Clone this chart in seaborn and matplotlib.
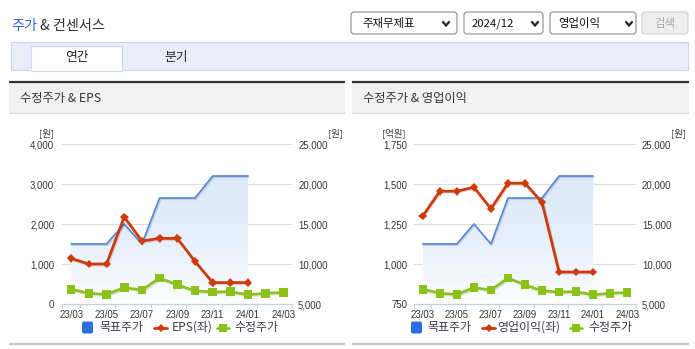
import numpy as np
import pandas as pd
import matplotlib
matplotlib.use("Agg")
import matplotlib.pyplot as plt
import matplotlib.patheffects as pe
from matplotlib.colors import LinearSegmentedColormap
from matplotlib.patches import FancyBboxPatch, Rectangle, Polygon
from matplotlib.lines import Line2D
import seaborn as sns

# ---- data -------------------------------------------------------------
months = ["23/03", "23/04", "23/05", "23/06", "23/07", "23/08", "23/09",
          "23/10", "23/11", "23/12", "24/01", "24/02", "24/03"]
tick_months = ["23/03", "23/05", "23/07", "23/09", "23/11", "24/01", "24/03"]
target_price = [12500, 12500, 12500, 15000, 12500, 18250, 18250, 18250,
                21000, 21000, 21000, np.nan, np.nan]
adj_price = [6850, 6350, 6200, 7050, 6750, 8250, 7400, 6650, 6500, 6550,
             6150, 6350, 6450]
eps = [1140, 1000, 1000, 2175, 1575, 1640, 1640, 1065, 535, 535, 535,
       np.nan, np.nan]
op_income = [1300, 1455, 1455, 1480, 1345, 1505, 1505, 1385, 950, 950, 950,
             np.nan, np.nan]
eps_ticks = [0, 1000, 2000, 3000, 4000]
op_ticks = [750, 1000, 1250, 1500, 1750]
price_ticks = [5000, 10000, 15000, 20000, 25000]

df = pd.DataFrame({"pos": np.arange(len(months)), "month": months,
                   "target": target_price, "adj": adj_price,
                   "eps": eps, "op": op_income})

# ---- style ------------------------------------------------------------
W, H = 695, 349
BLUE, RED, GREEN = "#4f84da", "#cf3a0c", "#8bc21a"
LEG_BLUE = "#2a6ee0"
AXIS = "#c2d0e2"
TXT = "#333333"
NUM_FONT = ["Liberation Sans Narrow", "Liberation Sans", "DejaVu Sans"]

sns.set_theme(style="white")
plt.rcParams["font.family"] = ["Noto Sans CJK KR", "DejaVu Sans"]

fig = plt.figure(figsize=(W / 100, H / 100), dpi=100)
page = fig.add_axes([0, 0, 1, 1], zorder=0)
page.set_xlim(0, W)
page.set_ylim(H, 0)
page.axis("off")


def box(x0, y0, x1, y1, fc, ec="none", lw=0.0, r=0.0, z=1):
    if r:
        p = FancyBboxPatch((x0, y0), x1 - x0, y1 - y0,
                           boxstyle=f"round,pad=0,rounding_size={r}",
                           fc=fc, ec=ec, lw=lw, zorder=z)
    else:
        p = Rectangle((x0, y0), x1 - x0, y1 - y0, fc=fc, ec=ec, lw=lw, zorder=z)
    page.add_patch(p)


def hline(x0, x1, y, color, lw):
    page.plot([x0, x1], [y, y], color=color, lw=lw, solid_capstyle="butt", zorder=2)


# ---- page title -------------------------------------------------------
renderer = fig.canvas.get_renderer()
t = page.text(11, 26, "주가", color="#2f62c9", fontsize=10.2, va="center")
bb = t.get_window_extent(renderer)
page.text(bb.x1, 26, " & 컨센서스", color=TXT, fontsize=10.2, va="center")

# ---- selectors --------------------------------------------------------
selects = [(351, 457, "주재무제표", 362, 446),
           (464, 543, "2024/12", 471.5, 535),
           (550, 636, "영업이익", 558, 629)]
for x0, x1, label, tx, cx in selects:
    box(x0, 12, x1, 34, fc="white", ec="#8c8c8c", lw=0.8, r=3)
    page.text(tx, 23.5, label, fontsize=8.2, color="#111111", va="center")
    page.plot([cx - 3, cx, cx + 3], [22, 25.5, 22], color="#222222",
              lw=1.6, solid_joinstyle="miter", zorder=3)
box(642, 12, 688, 34, fc="#eeeeee", ec="#cfcfcf", lw=0.8, r=3)
page.text(665, 23.5, "검색", fontsize=8.2, color="#a6a6a6",
          ha="center", va="center")

# ---- tabs -------------------------------------------------------------
box(11, 42, 688, 70, fc="#e8eef8", ec="#cdd7e8", lw=0.8)
box(31, 46, 122, 70.6, fc="white", ec="#cdd7e8", lw=0.8, z=2)
page.plot([31.5, 121.5], [70.4, 70.4], color="white", lw=1.2, zorder=3)
page.text(76.5, 58, "연간", fontsize=9.2, color="#222222", ha="center", va="center")
page.text(176, 58, "분기", fontsize=9.2, color="#222222", ha="center", va="center")

# ---- panels -----------------------------------------------------------
panels = [(9, 345, "수정주가 & EPS"), (352, 689, "수정주가 & 영업이익")]
for x0, x1, title in panels:
    box(x0, 82, x1, 113, fc="#f1f1f1")
    hline(x0, x1, 82.2, "#333333", 1.6)
    hline(x0, x1, 113, "#d9d9d9", 0.8)
    hline(x0, x1, 344, "#c6c6c6", 1.6)
    page.text(x0 + 11, 98.5, title, fontsize=8.8, color=TXT, va="center")

shadow = [pe.SimpleLineShadow(offset=(0.8, -0.9), shadow_color="#000000", alpha=0.12),
          pe.Normal()]


def add_chart(x0, x1, left_col, left_ticks, l_pad, r_pad):
    y0, y1 = 144, 304
    rect = [x0 / W, 1 - y1 / H, (x1 - x0) / W, (y1 - y0) / H]
    ax_l = fig.add_axes(rect)
    ax_r = ax_l.twinx()
    ax_l.set_zorder(3)
    ax_r.set_zorder(2)
    ax_l.patch.set_visible(False)

    # gradient area under the target price
    sub = df.dropna(subset=["target"])
    xs, ys = sub["pos"].to_numpy(), sub["target"].to_numpy()
    base = price_ticks[0]
    verts = [(xs[0], base)] + list(zip(xs, ys)) + [(xs[-1], base)]
    clip = Polygon(verts, closed=True, fc="none", ec="none",
                   transform=ax_r.transData)
    ax_r.add_patch(clip)
    cmap = LinearSegmentedColormap.from_list("fade", ["#fcfdff", "#e6effa", "#dbe8f9"])
    im = ax_r.imshow(np.linspace(0, 1, 256).reshape(-1, 1),
                     extent=[xs[0], xs[-1], base, ys.max()], origin="lower",
                     cmap=cmap, aspect="auto", zorder=0.8,
                     interpolation="bilinear")
    im.set_clip_path(clip)

    sns.lineplot(data=df, x="pos", y="target", ax=ax_r, color=BLUE, lw=1.2,
                 path_effects=shadow, zorder=3)
    sns.lineplot(data=df, x="pos", y="adj", ax=ax_r, color=GREEN, lw=1.9,
                 marker="s", markersize=6.2, markeredgewidth=0,
                 path_effects=shadow, zorder=5)
    sns.lineplot(data=df, x="pos", y=left_col, ax=ax_l, color=RED, lw=2.0,
                 marker="D", markersize=4.4, markeredgewidth=0,
                 path_effects=shadow, zorder=4)

    for ax in (ax_l, ax_r):
        ax.set_xlabel("")
        ax.set_ylabel("")
        for s in ax.spines.values():
            s.set_visible(False)

    ax_r.set_ylim(price_ticks[0], price_ticks[-1])
    ax_r.set_yticks(price_ticks)
    ax_r.set_yticklabels([f"{v:,}" for v in price_ticks])
    ax_r.yaxis.grid(True, color="#dcdcdc", lw=0.8)
    ax_r.tick_params(axis="y", length=0, pad=r_pad, labelsize=6.9,
                     labelcolor=TXT, labelfontfamily=NUM_FONT)

    ax_l.set_ylim(left_ticks[0], left_ticks[-1])
    ax_l.set_yticks(left_ticks)
    ax_l.set_yticklabels([f"{v:,}" for v in left_ticks])
    ax_l.tick_params(axis="y", length=0, pad=l_pad, labelsize=6.9,
                     labelcolor=TXT, labelfontfamily=NUM_FONT)
    ax_l.grid(False)

    n = len(months)
    ax_l.set_xlim(-0.5, n - 0.5)
    ax_l.set_xticks([months.index(m) for m in tick_months])
    ax_l.set_xticklabels(tick_months)
    ax_l.set_xticks(np.r_[-0.5, np.arange(0.5, n, 2)], minor=True)
    ax_l.tick_params(axis="x", which="major", length=0, pad=4.0,
                     labelsize=6.9, labelcolor=TXT, labelfontfamily=NUM_FONT)
    ax_l.tick_params(axis="x", which="minor", length=3.0, width=0.8,
                     color=AXIS, direction="out", bottom=True)
    ax_l.spines["bottom"].set_visible(True)
    ax_l.spines["bottom"].set_color(AXIS)
    ax_l.spines["bottom"].set_linewidth(0.9)
    return ax_l, ax_r


add_chart(62.3, 292.3, "eps", eps_ticks, l_pad=5.8, r_pad=4.2)
add_chart(414.3, 635.7, "op", op_ticks, l_pad=5.0, r_pad=4.5)

# axis unit captions
for x, s in [(46, "[원]"), (335, "[원]"), (394, "[억원]"), (678.5, "[원]")]:
    page.text(x, 133.5, s, fontsize=6.8, color=TXT, ha="center", va="center")


# ---- legends ----------------------------------------------------------
def legend(sq_x, t1_x, red_x, t2_x, green_x, t3_x, red_label):
    y = 327.5
    box(sq_x, 321.5, sq_x + 11, 333.5, fc=LEG_BLUE, r=2, z=3)
    page.text(t1_x, y, "목표주가", fontsize=8.6, color="#3a3a4c", va="center")
    page.plot([red_x, red_x + 13], [y, y], color=RED, lw=2.0, zorder=3)
    page.plot([red_x + 6.5], [y], marker="D", markersize=4.4, color=RED,
              markeredgewidth=0, zorder=4)
    page.text(t2_x, y, red_label, fontsize=8.6, color="#3a3a4c", va="center")
    page.plot([green_x, green_x + 12], [y, y], color=GREEN, lw=1.9, zorder=3)
    page.plot([green_x + 6], [y], marker="s", markersize=6.2, color=GREEN,
              markeredgewidth=0, zorder=4)
    page.text(t3_x, y, "수정주가", fontsize=8.6, color="#3a3a4c", va="center")


legend(82, 99, 154, 172, 217, 234, "EPS(좌)")
legend(411, 427, 482, 497, 570, 588, "영업이익(좌)")

fig.savefig("out.png", dpi=100)
